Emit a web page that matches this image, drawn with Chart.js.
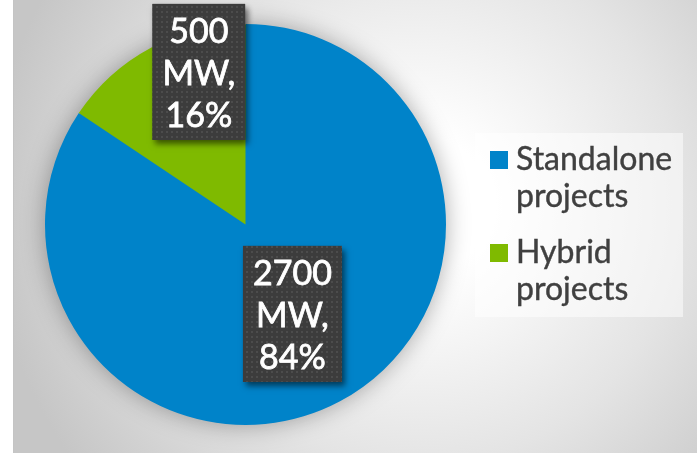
<!DOCTYPE html>
<html>
<head>
<meta charset="utf-8">
<script src="https://cdn.jsdelivr.net/npm/chart.js@4.4.1/dist/chart.umd.min.js"></script>
<style>
  html, body { margin: 0; padding: 0; background: #fff; }
  #wrap { position: relative; width: 697px; height: 456px; overflow: hidden; }
  #bg {
    position: absolute; left: 13px; top: 0; width: 684px; height: 453px;
    border-left: 1px solid #c4c4c4;
    background: radial-gradient(circle at 405px 205px, #ffffff 0px, #ffffff 70px, #e4e4e4 260px, #c6c6c6 430px);
  }
  #chart { position: absolute; left: 0; top: 0; }
  #legend {
    position: absolute; left: 475px; top: 133px; width: 208px; height: 184px;
    background: rgba(255, 255, 255, 0.5);
    font-family: Lato, sans-serif; font-size: 32px; line-height: 37px; color: #404040;
    -webkit-text-stroke: 0.4px #404040;
    box-sizing: border-box; padding: 6px 0 0 15px;
  }
  .item { display: flex; align-items: flex-start; margin-bottom: 19px; }
  .box { width: 18px; height: 18px; margin: 12px 8px 0 0; flex: none; -webkit-text-stroke: 0; }
</style>
</head>
<body>
<div id="wrap">
  <div id="bg"></div>
  <canvas id="chart" width="697" height="456"></canvas>
  <div id="legend"></div>
</div>
<script>
const categories = [['Standalone', 'projects'], ['Hybrid', 'projects']];
const capacityMW = [2700, 500];
const colors = ['#0083c9', '#7fba00'];

// posiciones de las etiquetas, relativas al radio
const labelOffsets = [[0.234, 0.446], [-0.233, -0.761]];

function makePattern(ctx) {
    const c = document.createElement('canvas');
    c.width = 5; c.height = 5;
    const p = c.getContext('2d');
    p.fillStyle = '#3c3c3c';
    p.fillRect(0, 0, 5, 5);
    p.fillStyle = '#4c4c4c';
    p.fillRect(1, 1, 2, 2);
    return ctx.createPattern(c, 'repeat');
}

const pieShadow = {
    id: 'pieShadow',
    beforeDatasetsDraw(chart) {
        const arc = chart.getDatasetMeta(0).data[0];
        const ctx = chart.ctx;
        ctx.save();
        ctx.shadowColor = 'rgba(0,0,0,0.35)';
        ctx.shadowBlur = 24;
        ctx.fillStyle = '#0083c9';
        ctx.beginPath();
        ctx.arc(arc.x, arc.y, arc.outerRadius - 1, 0, Math.PI * 2);
        ctx.fill();
        ctx.restore();
    }
};

const boxLabels = {
    id: 'boxLabels',
    afterDatasetsDraw(chart) {
        const ctx = chart.ctx;
        const meta = chart.getDatasetMeta(0);
        const data = chart.data.datasets[0].data;
        const total = data.reduce((a, b) => a + b, 0);
        const pattern = makePattern(ctx);
        ctx.save();
        ctx.font = '34px Lato';
        meta.data.forEach((arc, i) => {
            const lines = [String(data[i]), 'MW,', Math.round(data[i] / total * 100) + '%'];
            const cx = arc.x + labelOffsets[i][0] * arc.outerRadius;
            const cy = arc.y + labelOffsets[i][1] * arc.outerRadius;
            const w = Math.max(...lines.map(l => ctx.measureText(l).width)) + 20;
            const h = 136;
            ctx.save();
            ctx.shadowColor = 'rgba(0,0,0,0.55)';
            ctx.shadowBlur = 6;
            ctx.shadowOffsetX = 3;
            ctx.shadowOffsetY = 4;
            ctx.fillStyle = '#3c3c3c';
            ctx.fillRect(cx - w / 2, cy - h / 2, w, h);
            ctx.restore();
            ctx.fillStyle = pattern;
            ctx.fillRect(cx - w / 2, cy - h / 2, w, h);
            ctx.fillStyle = '#ffffff';
            ctx.strokeStyle = '#ffffff';
            ctx.lineWidth = 0.8;
            ctx.textAlign = 'center';
            ctx.textBaseline = 'alphabetic';
            lines.forEach((l, j) => {
                ctx.fillText(l, cx, cy - h / 2 + 39 + j * 42);
                ctx.strokeText(l, cx, cy - h / 2 + 39 + j * 42);
            });
        });
        ctx.restore();
    }
};

const chart = new Chart(document.getElementById('chart'), {
    type: 'pie',
    data: {
        labels: categories,
        datasets: [{
            data: capacityMW,
            backgroundColor: colors,
            borderWidth: 0
        }]
    },
    options: {
        responsive: false,
        animation: false,
        layout: { padding: { left: 44, right: 250, top: 24, bottom: 31 } },
        plugins: {
            legend: { display: false },
            tooltip: { enabled: false }
        }
    },
    plugins: [pieShadow, boxLabels]
});

// leyenda en HTML
document.getElementById('legend').innerHTML = categories.map((c, i) =>
    `<div class="item"><div class="box" style="background:${colors[i]}"></div><div>${c.join('<br>')}</div></div>`
).join('');
</script>
</body>
</html>
